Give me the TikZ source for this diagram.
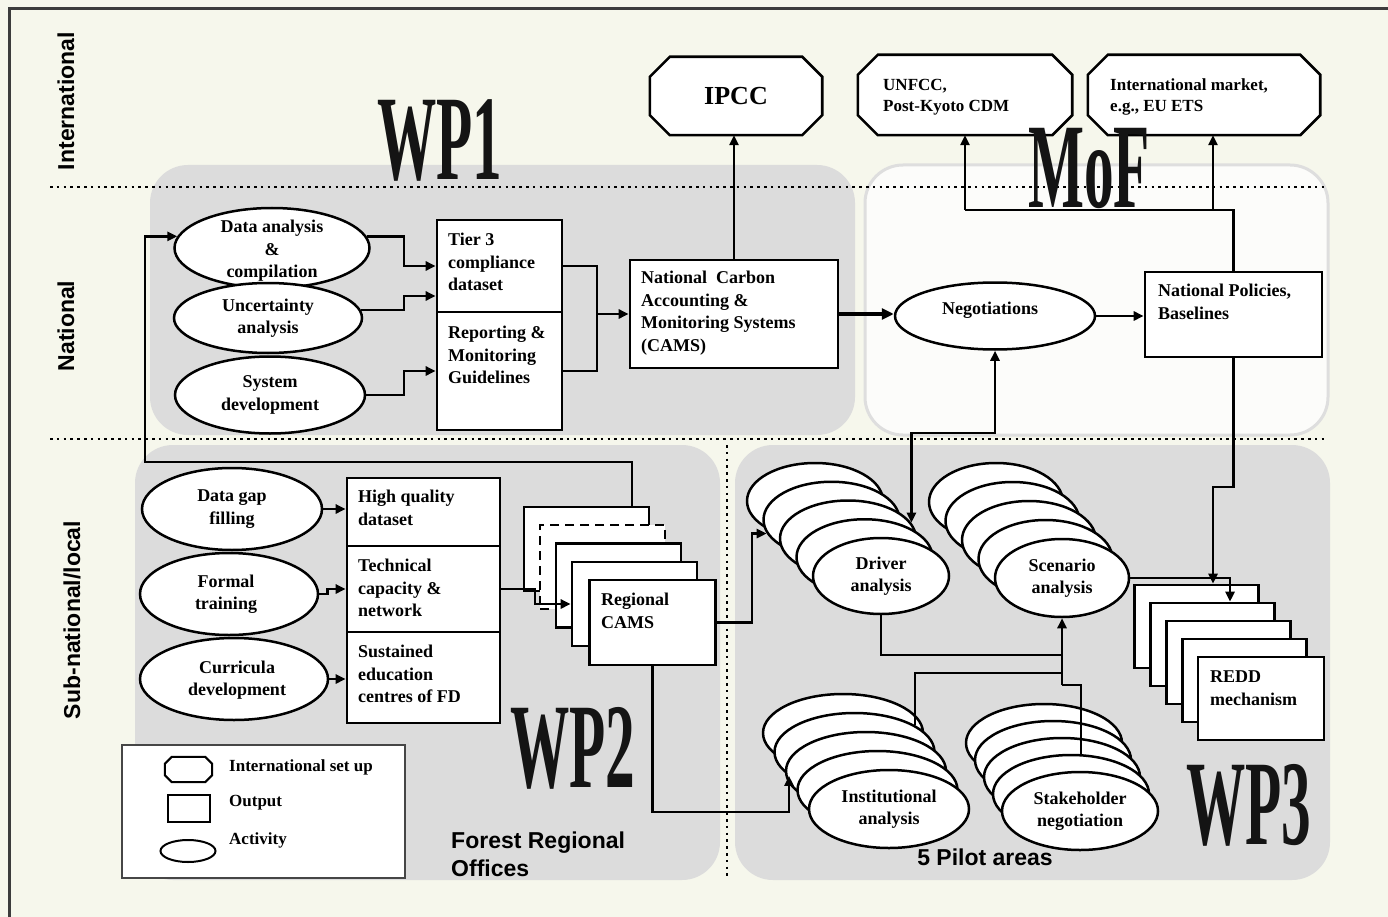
\documentclass[tikz,border=0pt]{standalone}
\usepackage{fontspec}
\setmainfont{Liberation Serif}
\setsansfont{Liberation Sans}
\usepackage{graphicx}
\usetikzlibrary{arrows.meta,shapes.geometric}

\definecolor{bgc}{RGB}{246,247,236}
\definecolor{regc}{RGB}{220,220,220}
\definecolor{mofc}{RGB}{252,252,250}
\definecolor{mofb}{RGB}{222,222,222}
\definecolor{framec}{RGB}{60,60,60}
\definecolor{legc}{RGB}{70,70,70}

\newcommand\nf{\fontsize{18}{22.5}\selectfont\bfseries}
\newcommand\sidef{\fontsize{23}{27}\selectfont\sffamily\bfseries}
\newcommand\bigf{\fontsize{121}{121}\selectfont\bfseries}
\newcommand\legf{\fontsize{17}{20}\selectfont\bfseries}
\newcommand\octf{\fontsize{17}{21}\selectfont\bfseries}
\newcommand\wplabel[1]{\scalebox{0.49}[1]{#1}}

\newcommand\octframe[3]{%
\draw[#3] ([xshift=#2]#1.north west) -- ([xshift=-#2]#1.north east) -- ([yshift=-#2]#1.north east) -- ([yshift=#2]#1.south east) -- ([xshift=-#2]#1.south east) -- ([xshift=#2]#1.south west) -- ([yshift=#2]#1.south west) -- ([yshift=-#2]#1.north west) -- cycle;}

\begin{document}
\begin{tikzpicture}[x=1pt,y=-1pt,
  conn/.style={line width=2.7pt},
  arr/.style={conn,-{Triangle[length=10pt,width=9pt]}},
  arrboth/.style={conn,{Triangle[length=10pt,width=9pt]}-{Triangle[length=10pt,width=9pt]}},
  thickarr/.style={line width=4.2pt,-{Triangle[length=12pt,width=11pt]}},
  box/.style={draw,line width=2.6pt,fill=white,inner sep=0pt},
  act/.style={ellipse,draw,line width=2.5pt,fill=white,inner sep=0pt},
  slot/.style={inner sep=0pt},
  oct/.style={draw,line width=2.6pt,fill=white,line join=miter},
  txt/.style={align=left,inner sep=0pt,font=\nf,anchor=west},
  ctxt/.style={align=center,inner sep=0pt,font=\nf},
  region/.style={fill=regc,rounded corners=38pt},
  dotline/.style={line width=2.6pt,dash pattern=on 2.6pt off 4.2pt},
  side/.style={rotate=90,font=\sidef,inner sep=0pt},
  bigwp/.style={font=\bigf,inner sep=0pt,text=black!92},
  sans/.style={font=\fontsize{23}{28}\selectfont\sffamily\bfseries,align=left,inner sep=0pt},
  drs/.style={act,minimum width=136pt,minimum height=76pt},
  scs/.style={act,minimum width=134pt,minimum height=78pt},
  ins/.style={act,minimum width=160pt,minimum height=78pt},
  sts/.style={act,minimum width=156pt,minimum height=78pt},
  rcs/.style={box,minimum width=125pt,minimum height=84pt},
  rds/.style={box,minimum width=124pt,minimum height=83pt},
]
\useasboundingbox (0,0) rectangle (1388,917);
\fill[bgc] (0,0) rectangle (1388,917);
\draw[framec,line width=3pt] (9,917) -- (9,9) -- (1388,9);

% regions
\fill[region] (150,165) rectangle (855,435);
\filldraw[fill=mofc,draw=mofb,line width=3pt,rounded corners=38pt] (865,165) rectangle (1328,435);
\fill[region] (135,445) rectangle (720,880);
\fill[region] (735,445) rectangle (1330,880);

% dotted separators
\draw[dotline] (50,187) -- (1325,187);
\draw[dotline] (50,439) -- (1325,439);
\draw[dotline] (727,445) -- (727,880);

% side labels
\node[side] (lint) at (66,101) {International};
\node[side] (lnat) at (66,326) {National};
\node[side] (lsub) at (72,620) {Sub-national/local};

% international octagons
\node[slot,minimum width=172pt,minimum height=78pt] (ipcc) at (736,96) {};
\octframe{ipcc}{20pt}{oct}
\node[font=\fontsize{26}{30}\selectfont\bfseries,inner sep=0pt] (ipcc-t) at (ipcc) {IPCC};

\node[slot,minimum width=214pt,minimum height=80pt] (unf) at (965,95) {};
\octframe{unf}{20pt}{oct}
\node[txt,font=\octf] (unf-t) at (883,97) {UNFCC,\\Post-Kyoto CDM};

\node[slot,minimum width=232pt,minimum height=80pt] (intl) at (1204,95) {};
\octframe{intl}{20pt}{oct}
\node[txt,font=\octf] (intl-t) at (1110,97) {International market,\\e.g., EU ETS};

% WP1 activities
\node[act,minimum width=195pt,minimum height=80pt] (da) at (272,248) {};
\node[ctxt] (da-t) at (272,251) {Data analysis\\\&\\compilation};
\node[act,minimum width=188pt,minimum height=70pt] (ua) at (268,318) {};
\node[ctxt] (ua-t) at (268,318) {Uncertainty\\analysis};
\node[act,minimum width=190pt,minimum height=77pt] (sd) at (270,395) {};
\node[ctxt] (sd-t) at (270,395) {System\\development};

% WP1 outputs
\node[box,minimum width=125pt,minimum height=92pt] (tier3) at (499.5,266) {};
\node[txt] (tier3-t) at (448,262) {Tier 3\\compliance\\dataset};
\node[box,minimum width=125pt,minimum height=118pt] (rep) at (499.5,371) {};
\node[txt] (rep-t) at (448,355) {Reporting \&\\Monitoring\\Guidelines};
\node[box,minimum width=208pt,minimum height=108pt] (cams) at (734,314) {};
\node[txt] (cams-t) at (641,313) {National\ \ Carbon\\Accounting \&\\Monitoring Systems\\(CAMS)};

% MoF
\node[act,minimum width=200pt,minimum height=67pt] (neg) at (995,316) {};
\node[ctxt] (neg-t) at (990,310) {Negotiations};
\node[box,minimum width=177pt,minimum height=85pt] (natpol) at (1233.5,314.5) {};
\node[txt] (natpol-t) at (1158,302) {National Policies,\\Baselines};

% WP2 activities
\node[act,minimum width=180pt,minimum height=82pt] (dg) at (232,509) {};
\node[ctxt] (dg-t) at (232,509) {Data gap\\filling};
\node[act,minimum width=178pt,minimum height=82pt] (ft) at (229,594) {};
\node[ctxt] (ft-t) at (226,594) {Formal\\training};
\node[act,minimum width=188pt,minimum height=82pt] (cd) at (234,679) {};
\node[ctxt] (cd-t) at (237,680) {Curricula\\development};

% WP2 outputs
\node[box,minimum width=153pt,minimum height=68pt] (hq) at (423.5,512) {};
\node[txt] (hq-t) at (358,508) {High quality\\dataset};
\node[box,minimum width=153pt,minimum height=86pt] (tech) at (423.5,589) {};
\node[txt] (tech-t) at (358,588) {Technical\\capacity \&\\network};
\node[box,minimum width=153pt,minimum height=91pt] (sust) at (423.5,677.5) {};
\node[txt] (sust-t) at (358,674) {Sustained\\education\\centres of FD};

% regional CAMS stack
\node[rcs] (r1) at (586.5,549) {};
\node[rcs,dash pattern=on 9pt off 6pt] (r2) at (602.5,567) {};
\node[rcs] (r3) at (618.5,585.5) {};
\node[rcs] (r4) at (634.5,604) {};
\node[box,minimum width=126pt,minimum height=85pt] (rc) at (652.5,622.5) {};
\node[txt] (rc-t) at (601,611) {Regional\\CAMS};

% WP3 stacks
\foreach \i/\x/\y in {1/815/501,2/831.5/519.75,3/848/538.5,4/864.5/557.25,5/881/576}
  \node[drs] (dr\i) at (\x,\y) {};
\node[ctxt] (dr-t) at (dr5) {Driver\\analysis};
\foreach \i/\x/\y in {1/996/502,2/1012.5/521,3/1029/540,4/1045.5/559,5/1062/578}
  \node[scs] (sc\i) at (\x,\y) {};
\node[ctxt] (sc-t) at (sc5) {Scenario\\analysis};
\foreach \i/\x/\y in {1/843/733,2/854.5/752,3/866/771,4/877.5/790,5/889/809}
  \node[ins] (in\i) at (\x,\y) {};
\node[ctxt] (in-t) at (in5) {Institutional\\analysis};
\foreach \i/\x/\y in {1/1044/743,2/1053/760,3/1062/777,4/1071/794,5/1080/811}
  \node[sts] (st\i) at (\x,\y) {};
\node[ctxt] (st-t) at (st5) {Stakeholder\\negotiation};

% REDD stack
\node[rds] (b1) at (1196.5,626.5) {};
\node[rds] (b2) at (1212.5,644.5) {};
\node[rds] (b3) at (1228.5,662.5) {};
\node[rds] (b4) at (1244.5,680.5) {};
\node[box,minimum width=126pt,minimum height=83pt] (redd) at (1261,698.5) {};
\node[txt] (redd-t) at (1210,688) {REDD\\mechanism};

% legend
\node[box,draw=legc,line width=2pt,minimum width=283pt,minimum height=133pt] (leg) at (263.5,811.5) {};
\node[slot,minimum width=47pt,minimum height=25pt] (lo) at (188.5,769.5) {};
\octframe{lo}{7pt}{draw,line width=2pt,fill=white}
\node[box,line width=2pt,minimum width=42pt,minimum height=27pt] (lr) at (189,808.5) {};
\node[act,line width=2pt,minimum width=55pt,minimum height=22pt] (le) at (188,851) {};
\node[txt,font=\legf] (lo-t) at (229,767) {International set up};
\node[txt,font=\legf] (lr-t) at (229,803) {Output};
\node[txt,font=\legf] (le-t) at (229,840) {Activity};

% region captions
\node[sans,anchor=west] (fro) at (451,854) {Forest Regional\\Offices};
\node[sans] (pil) at (985,857) {5 Pilot areas};

% big WP labels
\node[bigwp] (wp1) at (440,140) {\wplabel{WP1}};
\node[bigwp] (mof) at (1089,168) {\wplabel{MoF}};
\node[bigwp] (wp2) at (573,748) {\wplabel{WP2}};
\node[bigwp] (wp3) at (1249,805) {\wplabel{WP3}};

% helper coordinates
\coordinate (j1) at (404,0);
\coordinate (j2) at (597,314);
\coordinate (j3) at (965,210);
\coordinate (j4) at (1213,210);
\coordinate (j5) at (1213,487);
\coordinate (j6) at (1230,0);
\coordinate (j7) at (0,433);
\coordinate (j9) at (632,0);
\coordinate (j10) at (145,462);
\coordinate (j11) at (752,0);
\coordinate (j13) at (535,0);
\coordinate (h655) at (0,655);
\coordinate (h673) at (0,673);
\coordinate (h685) at (0,685);
\coordinate (h812) at (0,812);
\coordinate (k1) at (sc5.south |- h685);

% connectors national level
\draw[arr] (da.7) -- (j1 |- da.7) |- (tier3.west);
\draw[arr] (ua.5) -- (j1 |- ua.5) |- ([yshift=-30pt]tier3.west);
\draw[arr] (sd.east) -- (j1 |- sd.east) |- (rep.west);
\draw[conn] (tier3.east) -| (j2);
\draw[conn] (rep.east) -| (j2);
\draw[arr] (j2) -- (cams.west);
\draw[arr] (cams.north) -- (cams.north |- ipcc.south);
\draw[thickarr] (cams.east) -- (cams.east -| neg.west);
\draw[arr] (neg.east) -- (neg.east -| natpol.west);
\draw[conn] (natpol.north) |- (j3);
\draw[arr] (j3) -- (j3 |- unf.south);
\draw[arr] (j4) -- (j4 |- intl.south);
\draw[arr] (natpol.south) |- (j5) -- (j5 |- b1.north);
\draw[arr] (sc5.east) -| (j6 |- b2.north);
\draw[arrboth] (neg.south) |- (dr3.14 |- j7) -- (dr3.14);
\draw[conn] (dr5.south) |- (sc5.south |- h655);
\draw[conn] (in2.24) |- (sc5.south |- h673);
\draw[conn] (st4.76) |- (k1);
\draw[arr] (k1) -- (sc5.south);

% connectors sub-national level
\draw[arr] (r1.north -| j9) |- (j10) |- (da.173);
\draw[arr] (rc.east) -| (j11 |- dr2.192) -- (dr2.192);
\draw[arr] (rc.south) |- (in2.200 |- h812) -- (in2.200);
\draw[arr] (dg.east) -- (dg.east -| hq.west);
\draw[arr] (ft.east) -- ++(8,0) |- (tech.west);
\draw[arr] (cd.east) -- (cd.east -| sust.west);
\draw[arr] (tech.east) -| (j13 |- r4.west) -- (r4.west);
\end{tikzpicture}
\end{document}
